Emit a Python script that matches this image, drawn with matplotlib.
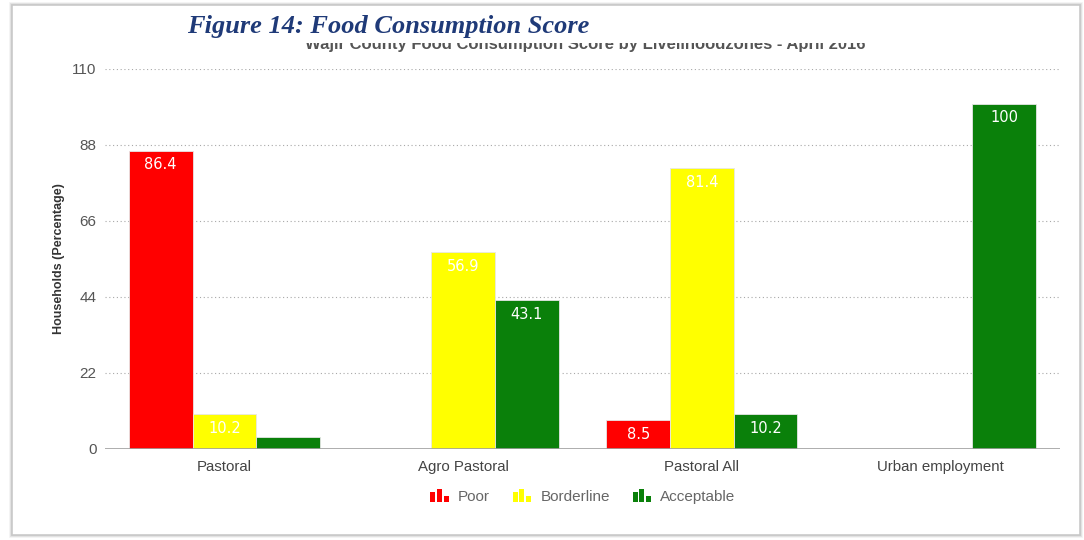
import matplotlib
matplotlib.use("Agg")
import matplotlib.pyplot as plt
import numpy as np
from matplotlib.patches import Rectangle
from matplotlib.legend_handler import HandlerBase

zones = ["Pastoral", "Agro Pastoral", "Pastoral All", "Urban employment"]
series_names = ["Poor", "Borderline", "Acceptable"]
poor = [86.4, 0.0, 8.5, 0.0]
borderline = [10.2, 56.9, 81.4, 0.0]
acceptable = [3.4, 43.1, 10.2, 100.0]
yticks = [0, 22, 44, 66, 88, 110]
colors = ["#ff0000", "#ffff00", "#0a800a"]

W, H = 1084, 540
fig = plt.figure(figsize=(W / 100, H / 100), dpi=100)

# outer frame with a soft shadow
for i, a in enumerate([0.10, 0.07, 0.04]):
    fig.patches.append(Rectangle(((12 - i) / W, (5 - i) / H), (1068 + 2 * i) / W, (530 + 2 * i) / H,
                                 transform=fig.transFigure, fill=False,
                                 edgecolor=(0, 0, 0, a), lw=1.5, zorder=-2))
fig.patches.append(Rectangle((12 / W, 5 / H), 1068 / W, 530 / H, transform=fig.transFigure,
                             facecolor="white", edgecolor="#c9c9c9", lw=1.2, zorder=-1))

ax = fig.add_axes([105 / W, 1 - 449 / H, (1060 - 105) / W, (449 - 69) / H])
ax.set_facecolor("none")
ax.set_zorder(1)

x = np.arange(len(zones))
width = 0.267
all_series = [poor, borderline, acceptable]
for k, (vals, col) in enumerate(zip(all_series, colors)):
    pos = x + (k - 1) * width
    bars = ax.bar(pos, vals, width, color=col, edgecolor="#e6e6e6", linewidth=0.6, zorder=3)
    for b, v in zip(bars, vals):
        if v >= 5:
            ax.text(b.get_x() + b.get_width() / 2, v - 2.0, f"{v:g}", ha="center", va="top",
                    color="white", fontsize=10.5, family="DejaVu Sans", zorder=4)

ax.set_xlim(-0.5, 3.5)
ax.set_ylim(0, 110)
ax.set_yticks(yticks)
ax.yaxis.grid(True, linestyle=(0, (1.0, 2.4)), color="#a8a8a8", linewidth=0.8, zorder=0)
ax.axhline(0, color="#a0a0a0", lw=1.2, zorder=5)
for s in ax.spines.values():
    s.set_visible(False)
ax.tick_params(axis="y", length=0, pad=6, labelsize=11, labelcolor="#555555")
ax.tick_params(axis="x", length=0, pad=8, labelsize=10.8, labelcolor="#444444")
for t in ax.get_yticklabels() + ax.get_xticklabels():
    t.set_family("Liberation Sans")
ax.set_xticks(x)
ax.set_xticklabels(zones)
ax.set_ylabel("Households (Percentage)", fontsize=9, fontweight="bold", color="#333333",
              family="Liberation Sans", labelpad=5)


class BarIcon(HandlerBase):
    """Small three-bar glyph used as the legend key."""
    def create_artists(self, legend, orig_handle, xdescent, ydescent, width, height, fontsize, trans):
        col = orig_handle.get_facecolor()
        bw = width * 0.27
        step = width * 0.36
        hs = [0.8, 1.1, 0.5]
        arts = []
        for i, h in enumerate(hs):
            r = Rectangle((-xdescent + i * step, -ydescent), bw, height * h,
                          facecolor=col, edgecolor="none", transform=trans)
            arts.append(r)
        return arts


handles = [Rectangle((0, 0), 1, 1, facecolor=c) for c in colors]
leg = fig.legend(handles, series_names, loc="center", bbox_to_anchor=(583 / W, 1 - 497 / H),
                 ncol=3, frameon=False, handler_map={Rectangle: BarIcon()},
                 handlelength=1.2, handleheight=0.85, handletextpad=0.6, columnspacing=1.5,
                 prop={"family": "Liberation Sans", "size": 11})
for t in leg.get_texts():
    t.set_color("#666666")

# chart subtitle, partly hidden under the figure caption box
fig.text(585 / W, 1 - 45 / H, "Wajir County Food Consumption Score by Livelihoodzones - April 2016",
         ha="center", va="center", fontsize=12, fontweight="bold", color="#555555",
         family="Liberation Sans", zorder=1)
fig.patches.append(Rectangle((14 / W, 1 - 43 / H), 1064 / W, 36 / H, transform=fig.transFigure,
                             facecolor="white", edgecolor="none", zorder=2))
fig.text(187 / W, 1 - 27 / H, "Figure 14: Food Consumption Score", ha="left", va="center",
         fontsize=19, fontweight="bold", fontstyle="italic", color="#1f3a78",
         family="Liberation Serif", zorder=3)

fig.savefig("out.png", dpi=100)
